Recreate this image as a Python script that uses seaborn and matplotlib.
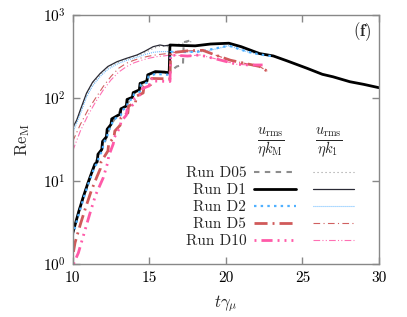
import matplotlib
matplotlib.use("Agg")
import matplotlib.pyplot as plt
import seaborn as sns
import numpy as np
from matplotlib.ticker import FixedLocator, NullLocator

# ---------------- data ----------------
runs = ["Run D05", "Run D1", "Run D2", "Run D5", "Run D10"]

# thick curves: u_rms / (eta k_M)
t_D05 = [10.0, 10.5, 11.0, 11.5, 12.0, 12.5, 13.0, 13.15, 13.5, 14.0, 14.5, 15.0, 15.5, 16.3, 16.8, 17.2, 17.25, 17.8]
Re_D05 = [2.3, 5.0, 9.2, 17, 26, 48, 65, 74, 82, 112, 140, 185, 205, 205, 240, 250, 470, 500]

t_D1 = [10.0, 10.4, 10.7, 11.0, 11.3, 11.45, 11.6, 11.65, 11.9, 11.95, 12.2, 12.25, 12.5, 12.55,
        13.1, 13.15, 13.5, 13.55, 13.9, 13.95, 14.35, 14.4, 14.85, 14.9, 15.4, 16.0, 16.3, 16.35,
        17.0, 18.0, 19.0, 20.2, 21.0, 22.2, 23.1, 24.0, 25.3, 26.3, 27.0, 28.1, 29.0, 30.0]
Re_D1 = [2.35, 4.3, 6.5, 9.5, 13.5, 16, 17, 21, 24, 30, 34, 42, 48, 56,
         64, 74, 80, 96, 102, 116, 125, 150, 160, 190, 208, 205, 200, 435,
         430, 425, 447, 457, 415, 343, 321, 280, 228, 193, 180, 157, 146, 133]

t_D2 = [10.0, 10.4, 10.7, 11.0, 11.3, 11.5, 11.65, 11.7, 11.95, 12.0, 12.25, 12.3, 12.55, 12.6,
        13.15, 13.2, 13.55, 13.6, 13.95, 14.0, 14.4, 14.45, 14.9, 14.95, 15.4, 16.0, 16.35, 16.4,
        17.5, 18.3, 19.3, 20.2, 21.4, 22.2, 23.2]
Re_D2 = [2.2, 4.0, 6.1, 9.0, 12.8, 15.5, 16.5, 20, 23, 29, 33, 40, 46, 54,
         62, 71, 77, 92, 98, 111, 120, 145, 154, 182, 195, 192, 190, 360,
         358, 362, 395, 427, 361, 335, 315]

t_D5 = [10.05, 10.15, 10.5, 10.8, 11.2, 11.56, 11.8, 11.85, 12.3, 12.35, 12.7, 12.75, 13.1, 13.15,
        13.6, 13.65, 14.1, 14.15, 14.6, 14.65, 15.1, 15.15, 16.35, 16.4, 17.5, 18.5, 19.3, 20.3,
        21.3, 22.2, 22.8]
Re_D5 = [1.4, 1.8, 3.0, 4.5, 7.5, 11, 14, 17, 23, 28, 34, 40, 47, 58,
         66, 80, 88, 105, 115, 135, 145, 172, 170, 350, 370, 375, 330, 285,
         260, 240, 205]

t_D10 = [10.05, 10.37, 10.7, 11.13, 11.5, 12.0, 12.3, 12.35, 12.65, 12.7, 13.1, 13.15, 13.5, 13.55,
         14.0, 14.05, 14.5, 14.55, 15.0, 15.05, 15.3, 15.35, 16.35, 16.4, 17.5, 18.3, 19.6, 20.7,
         21.5, 22.4]
Re_D10 = [1.0, 1.36, 2.2, 4.1, 6.8, 11, 17, 20, 28, 33, 45, 52, 62, 72,
          85, 100, 112, 130, 140, 165, 175, 160, 158, 330, 320, 330, 288, 255,
          250, 250]

# thin curves: u_rms / (eta k_1)
t_D05t = [10.0, 10.5, 10.9, 11.3, 11.8, 12.3, 12.9, 13.5, 14.2, 14.7, 15.25, 15.7, 16.3, 17.0, 17.8]
Re_D05t = [41, 68, 108, 148, 190, 232, 266, 293, 322, 350, 395, 420, 415, 450, 480]

t_D1t = [10.0, 10.26, 10.5, 10.9, 11.3, 11.8, 12.3, 12.9, 13.5, 14.2, 14.7, 15.25, 15.7, 16.0, 16.35]
Re_D1t = [44, 54, 72, 114, 155, 198, 240, 274, 300, 330, 365, 415, 435, 425, 435]

t_D2t = [10.0, 10.5, 10.9, 11.3, 11.8, 12.3, 12.9, 13.5, 14.2, 14.7, 15.25, 15.7, 16.4, 17.5, 18.5,
         19.5, 20.2, 21.4, 22.2, 23.2]
Re_D2t = [38, 64, 102, 140, 182, 222, 256, 283, 310, 333, 355, 362, 362, 360, 362,
          395, 427, 361, 335, 315]

t_D5t = [10.0, 10.5, 11.0, 11.5, 12.0, 12.5, 13.0, 13.5, 14.0, 14.5, 15.0, 15.5, 16.0, 16.4, 17.5,
         18.5, 19.3, 20.3, 21.3, 22.2, 22.8]
Re_D5t = [30, 48, 72, 100, 138, 182, 228, 262, 285, 305, 320, 332, 340, 350, 370,
          375, 330, 285, 260, 240, 205]

t_D10t = [10.0, 10.5, 11.0, 11.5, 12.0, 12.5, 13.0, 13.5, 14.0, 14.5, 15.0, 15.5, 16.0, 16.4, 17.5,
          18.3, 19.6, 20.7, 21.5, 22.4]
Re_D10t = [23, 40, 62, 90, 125, 165, 205, 238, 265, 285, 302, 315, 322, 330, 320,
           330, 288, 255, 250, 250]

x_ticks = [10, 15, 20, 25, 30]
y_ticks = [1, 10, 100, 1000]

# ---------------- styling ----------------
sns.set_theme(style="ticks")
plt.rcParams["font.family"] = ["serif"]
plt.rcParams["font.serif"] = ["cmr10", "DejaVu Serif"]
plt.rcParams["mathtext.fontset"] = "cm"
plt.rcParams["axes.formatter.use_mathtext"] = True

colors = {"D05": "#8c8c8c", "D1": "#000000", "D2": "#4fb0ff", "D5": "#d05a5a", "D10": "#ff5aa8"}
thin_colors = {"D05": "#9a9a9a", "D1": "#2a2a35", "D2": "#5ab4ff", "D5": "#d06060", "D10": "#ff70b4"}

thick_styles = {
    "D05": dict(lw=1.5, ls=(0, (2.6, 2.6))),
    "D1": dict(lw=2.0, ls="-"),
    "D2": dict(lw=1.6, ls=(0, (1.1, 1.9))),
    "D5": dict(lw=2.0, ls=(0, (4.7, 1.8, 0.7, 1.8))),
    "D10": dict(lw=2.0, ls=(0, (0.7, 1.8, 4.0, 1.8, 0.7, 1.8, 0.7, 1.8))),
}
thin_styles = {
    "D05": dict(lw=0.8, ls=(0, (1.0, 2.6))),
    "D1": dict(lw=0.9, ls="-"),
    "D2": dict(lw=0.8, ls=(0, (0.8, 1.0))),
    "D5": dict(lw=0.8, ls=(0, (6, 3, 1, 3))),
    "D10": dict(lw=0.8, ls=(0, (6, 2, 1, 2, 1, 2))),
}

thick = {"D05": (t_D05, Re_D05), "D1": (t_D1, Re_D1), "D2": (t_D2, Re_D2),
         "D5": (t_D5, Re_D5), "D10": (t_D10, Re_D10)}
thin = {"D05": (t_D05t, Re_D05t), "D1": (t_D1t, Re_D1t), "D2": (t_D2t, Re_D2t),
        "D5": (t_D5t, Re_D5t), "D10": (t_D10t, Re_D10t)}
keys = ["D05", "D1", "D2", "D5", "D10"]

fig = plt.figure(figsize=(4.07, 3.17), dpi=100)
ax = fig.add_axes([0.1786, 0.1672, 0.7526, 0.7855])

thin_handles = []
thick_handles = []
for k in keys:
    t, v = thin[k]
    sns.lineplot(x=t, y=v, ax=ax, estimator=None, sort=False, color=thin_colors[k],
                 linewidth=thin_styles[k]["lw"], linestyle=thin_styles[k]["ls"])
    thin_handles.append(ax.lines[-1])
for k in keys:
    t, v = thick[k]
    sns.lineplot(x=t, y=v, ax=ax, estimator=None, sort=False, color=colors[k],
                 linewidth=thick_styles[k]["lw"], linestyle=thick_styles[k]["ls"])
    thick_handles.append(ax.lines[-1])

ax.set_yscale("log")
ax.set_xlim(10, 30)
ax.set_ylim(1, 1000)
ax.xaxis.set_major_locator(FixedLocator(x_ticks))
ax.yaxis.set_major_locator(FixedLocator(y_ticks))
ax.yaxis.set_minor_locator(NullLocator())
ax.xaxis.set_minor_locator(NullLocator())
ax.set_xticklabels([str(x) for x in x_ticks])
ax.set_yticklabels([r"$10^{%d}$" % int(np.log10(y)) for y in y_ticks])

for sp in ax.spines.values():
    sp.set_color("#888888")
    sp.set_linewidth(1.0)
    sp.set_visible(True)
ax.tick_params(axis="both", which="major", direction="in", length=5, width=1,
               color="#888888", top=True, right=True, labelsize=11, labelcolor="black", pad=5)

ax.set_xlabel(r"$t\gamma_\mu$", fontsize=12, labelpad=6)
ax.set_ylabel(r"$\mathrm{Re}_\mathrm{M}$", fontsize=12, labelpad=8)

ax.text(0.945, 0.935, r"$\mathbf{(f)}$", transform=ax.transAxes, fontsize=12,
        ha="center", va="center")

# legend: thick column with labels on left, thin column without labels
handles = thick_handles + thin_handles
labels = runs + [""] * 5
leg = ax.legend(handles, labels, ncol=2, markerfirst=False, frameon=False,
                loc="upper right", bbox_to_anchor=(0.918, 0.392), borderpad=0.0,
                fontsize=11, handlelength=2.7, handletextpad=0.52, columnspacing=0.6,
                labelspacing=0.22, borderaxespad=0.0)
for txt in leg.get_texts():
    txt.set_ha("right")

ax.text(0.647, 0.485, r"$\frac{u_{\rm rms}}{\eta k_{\rm M}}$", transform=ax.transAxes,
        fontsize=15, ha="center", va="center")
ax.text(0.837, 0.485, r"$\frac{u_{\rm rms}}{\eta k_{1}}$", transform=ax.transAxes,
        fontsize=15, ha="center", va="center")

fig.savefig("out.png", dpi=100)
